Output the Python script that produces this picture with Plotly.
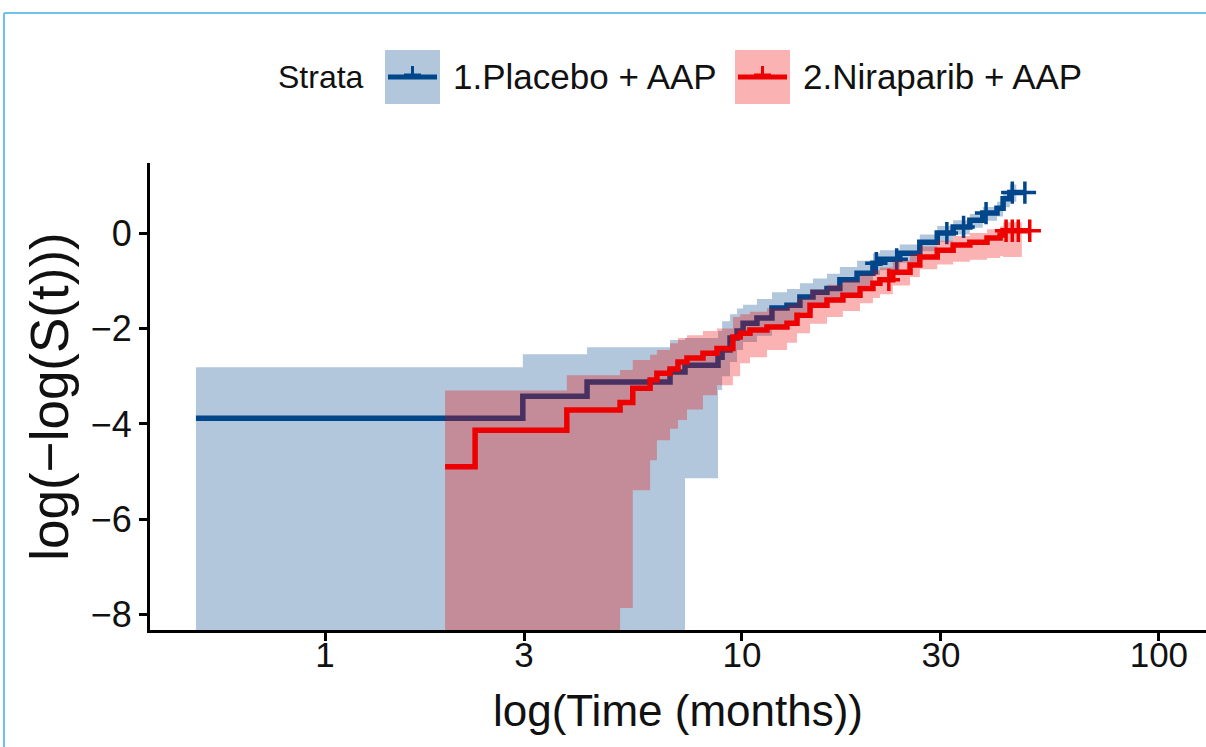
import plotly.graph_objects as go

# ---------------- data ----------------
# 1.Placebo + AAP : step times (months), log(-log(S)) estimate, CI upper, CI lower (None = -inf)
pla_time = [0.49, 2.98, 4.25, 6.72, 7.30, 8.76, 8.96, 9.36, 9.73, 10.06, 10.86, 11.80, 12.82,
            13.77, 14.80, 15.99, 17.17, 18.88, 20.61, 21.42, 23.9, 26.7, 29.4, 32.1, 35.2,
            37.8, 40.9, 42.3, 43.9]
pla_est = [-3.88, -3.42, -3.12, -2.91, -2.77, -2.60, -2.45, -2.20, -2.05, -1.89, -1.78, -1.57,
           -1.51, -1.34, -1.24, -1.16, -0.98, -0.84, -0.63, -0.55, -0.42, -0.19, 0.00, 0.13,
           0.27, 0.42, 0.52, 0.72, 0.85]
pla_up = [-2.81, -2.54, -2.39, -2.24, -2.20, -2.05, -1.85, -1.70, -1.58, -1.50, -1.38, -1.24,
          -1.17, -1.05, -0.95, -0.85, -0.71, -0.58, -0.42, -0.36, -0.24, -0.03, 0.15, 0.27,
          0.40, 0.55, 0.66, 0.88, 1.02]
pla_lo = [None, None, None, None, -5.14, -3.29, -3.00, -2.70, -2.45, -2.28, -2.15, -1.95,
          -1.85, -1.66, -1.55, -1.45, -1.27, -1.10, -0.88, -0.78, -0.62, -0.38, -0.18, -0.03,
          0.11, 0.26, 0.35, 0.54, 0.66]
pla_band_end = 45.5
pla_end = 47.7
pla_cens = [21.0, 23.5, 31.0, 34.0, 38.5, 44.5, 47.7]

# 2.Niraparib + AAP
nir_time = [1.94, 2.29, 3.80, 5.10, 5.47, 6.02, 6.25, 6.72, 7.02, 7.38, 8.06, 8.71, 9.51, 9.90,
            10.45, 11.48, 12.82, 13.55, 14.56, 15.99, 17.46, 19.19, 20.61, 21.42, 23.0, 25.3,
            26.7, 29.4, 32.1, 35.2, 38.7, 41.6, 42.3]
nir_est = [-4.90, -4.13, -3.71, -3.55, -3.25, -3.08, -2.94, -2.85, -2.70, -2.62, -2.52, -2.42,
           -2.18, -2.10, -2.03, -1.97, -1.89, -1.72, -1.51, -1.40, -1.30, -1.16, -1.05, -0.98,
           -0.82, -0.67, -0.50, -0.36, -0.25, -0.19, -0.10, -0.04, 0.05]
nir_up = [-3.30, -3.30, -2.98, -2.87, -2.66, -2.55, -2.45, -2.31, -2.20, -2.14, -2.05, -2.00,
          -1.76, -1.70, -1.65, -1.57, -1.50, -1.37, -1.18, -1.08, -1.00, -0.88, -0.78, -0.72,
          -0.58, -0.44, -0.28, -0.16, -0.06, 0.00, 0.08, 0.14, 0.23]
nir_lo = [None, None, None, -7.86, -5.39, -4.76, -4.34, -4.10, -3.92, -3.70, -3.40, -3.19,
          -3.00, -2.73, -2.60, -2.45, -2.30, -2.10, -1.90, -1.76, -1.63, -1.47, -1.36, -1.28,
          -1.10, -0.92, -0.76, -0.66, -0.60, -0.56, -0.52, -0.48, -0.50]
nir_band_end = 46.9
nir_end = 49.0
nir_cens = [22.5, 43.0, 44.5, 46.0, 49.0]

x_ticks = [1, 3, 10, 30, 100]
y_ticks = [0, -2, -4, -6, -8]
strata = ["1.Placebo + AAP", "2.Niraparib + AAP"]
x_title = "log(Time (months))"
y_title = "log(\u2212log(S(t)))"

# ---------------- styling ----------------
BLUE = "#00468B"
RED = "#ED0000"
BLUE_FILL = "rgba(0,70,139,0.30)"
RED_FILL = "rgba(237,0,0,0.30)"
FONT = "Liberation Sans, Arial, sans-serif"
TXT = "#111111"
Y_MIN, Y_MAX = -8.32, 1.47
X_RANGE = [-0.42, 2.113]


def step_value(times, vals, t):
    v = vals[0]
    for ti, vi in zip(times, vals):
        if ti <= t:
            v = vi
    return v


def band_traces(times, up, lo, end, fill):
    lo_c = [Y_MIN if v is None else v for v in lo]
    xs = times + [end]
    lo_c = lo_c + [lo_c[-1]]
    up_c = up + [up[-1]]
    t1 = go.Scatter(x=xs, y=lo_c, mode="lines", line=dict(width=0, shape="hv"),
                    hoverinfo="skip", showlegend=False)
    t2 = go.Scatter(x=xs, y=up_c, mode="lines", line=dict(width=0, shape="hv"),
                    fill="tonexty", fillcolor=fill, hoverinfo="skip", showlegend=False)
    return [t1, t2]


def line_traces(times, est, end, cens, color, name):
    xs = times + [end]
    ys = est + [est[-1]]
    ln = go.Scatter(x=xs, y=ys, mode="lines", line=dict(color=color, width=5.5, shape="hv"),
                    name=name, showlegend=False)
    cy = [step_value(times, est, t) for t in cens]
    mk = go.Scatter(x=cens, y=cy, mode="markers",
                    marker=dict(symbol="cross-thin", size=16, line=dict(color=color, width=3.5)),
                    showlegend=False, hoverinfo="skip")
    return [ln, mk]


fig = go.Figure()
for tr in band_traces(pla_time, pla_up, pla_lo, pla_band_end, BLUE_FILL):
    fig.add_trace(tr)
for tr in line_traces(pla_time, pla_est, pla_end, pla_cens, BLUE, strata[0]):
    fig.add_trace(tr)
for tr in band_traces(nir_time, nir_up, nir_lo, nir_band_end, RED_FILL):
    fig.add_trace(tr)
for tr in line_traces(nir_time, nir_est, nir_end, nir_cens, RED, strata[1]):
    fig.add_trace(tr)

fig.update_layout(
    width=1206, height=747,
    margin=dict(l=150, r=0, t=163, b=117),
    paper_bgcolor="white", plot_bgcolor="white",
    font=dict(family=FONT, color=TXT),
    showlegend=False,
)
fig.update_xaxes(
    type="log", range=X_RANGE,
    tickvals=x_ticks, ticktext=[str(v) for v in x_ticks],
    showgrid=False, zeroline=False,
    showline=True, linecolor="black", linewidth=3,
    ticks="outside", ticklen=8, tickwidth=3, tickcolor="black",
    ticklabelstandoff=-16,
    tickfont=dict(size=35, family=FONT, color=TXT),
)
fig.update_yaxes(
    range=[Y_MIN, Y_MAX], tickvals=y_ticks,
    showgrid=False, zeroline=False,
    showline=True, linecolor="black", linewidth=3,
    ticks="outside", ticklen=8, tickwidth=3, tickcolor="black",
    tickfont=dict(size=36, family=FONT, color=TXT),
    title=dict(text=y_title, font=dict(size=53, family=FONT, color=TXT), standoff=6),
)


# ---- manual legend (ggplot style keys) and x title ----
def px_x(p):
    return (p - 150) / 1056.0


def px_y(p):
    return (630 - p) / 467.0


shapes = []
annotations = []
annotations.append(dict(x=0.5, y=px_y(710), xref="paper", yref="paper", text=x_title,
                        showarrow=False, xanchor="center", yanchor="middle",
                        font=dict(size=44, family=FONT, color=TXT)))
annotations.append(dict(x=px_x(366), y=px_y(77), xref="paper", yref="paper", text="Strata",
                        showarrow=False, xanchor="right", yanchor="middle",
                        font=dict(size=32, family=FONT, color=TXT)))
keys = [(385, BLUE, BLUE_FILL, strata[0]), (735, RED, RED_FILL, strata[1])]
for left, col, fill, label in keys:
    shapes.append(dict(type="rect", xref="paper", yref="paper",
                       x0=px_x(left), x1=px_x(left + 55), y0=px_y(104), y1=px_y(50),
                       fillcolor=fill, line=dict(width=0), layer="above"))
    shapes.append(dict(type="line", xref="paper", yref="paper",
                       x0=px_x(left + 3), x1=px_x(left + 52), y0=px_y(77), y1=px_y(77),
                       line=dict(color=col, width=5)))
    shapes.append(dict(type="line", xref="paper", yref="paper",
                       x0=px_x(left + 27.5), x1=px_x(left + 27.5), y0=px_y(77), y1=px_y(66),
                       line=dict(color=col, width=3)))
    shapes.append(dict(type="line", xref="paper", yref="paper",
                       x0=px_x(left + 19), x1=px_x(left + 36), y0=px_y(75), y1=px_y(75),
                       line=dict(color=col, width=3)))
    annotations.append(dict(x=px_x(left + 66), y=px_y(77), xref="paper", yref="paper",
                            text=label, showarrow=False, xanchor="left", yanchor="middle",
                            font=dict(size=35, family=FONT, color=TXT)))

# light-blue page frame (cropped: left and top edges only)
shapes.append(dict(type="line", xref="paper", yref="paper", x0=px_x(4), x1=px_x(4),
                   y0=px_y(13), y1=px_y(747), line=dict(color="#6EC3E8", width=2)))
shapes.append(dict(type="line", xref="paper", yref="paper", x0=px_x(4), x1=px_x(1206),
                   y0=px_y(13), y1=px_y(13), line=dict(color="#6EC3E8", width=2)))

fig.update_layout(shapes=shapes, annotations=annotations)
fig.write_html("out.html")
